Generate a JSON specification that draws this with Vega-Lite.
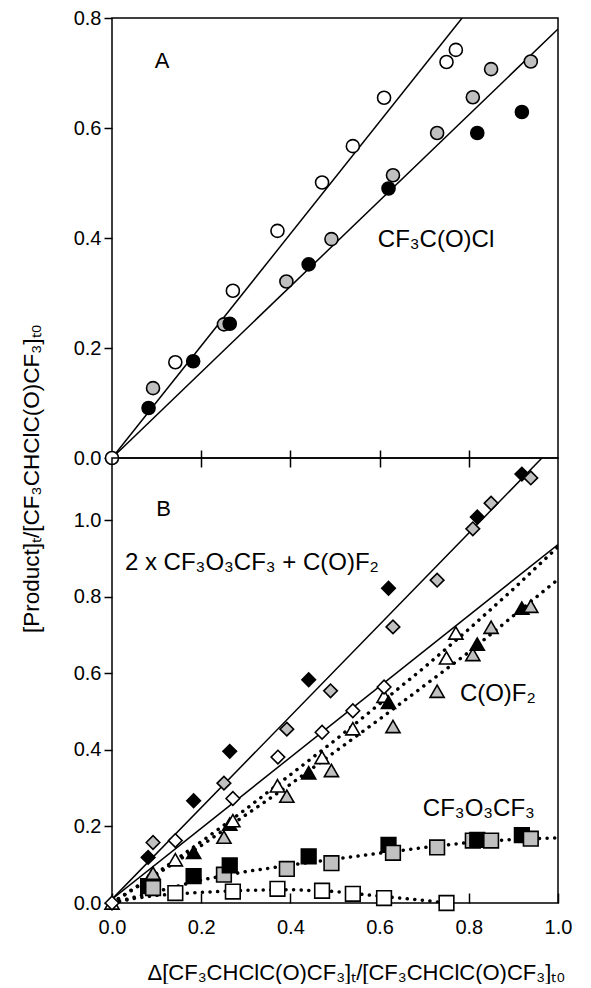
{
  "$schema": "https://vega.github.io/schema/vega-lite/v6.json",
  "padding": {"left": 19, "top": 7, "right": 5, "bottom": 0},
  "bounds": "flush",
  "spacing": 0,
  "config": {
    "font": "Liberation Sans",
    "view": {"stroke": "black", "strokeWidth": 1.5},
    "axis": {"labelFont": "Liberation Sans", "labelFontSize": 20, "labelColor": "black", "tickColor": "black", "tickWidth": 1.5, "domain": false, "grid": false, "labelFlush": false, "titleFont": "Liberation Sans", "titleFontSize": 22, "titleFontWeight": "normal", "titleColor": "black"},
    "text": {"font": "Liberation Sans", "fontSize": 22, "color": "black"}
  },
  "datasets": {
    "fitsA": [
      {"fit": "I", "x": 0, "y": 0}, {"fit": "I", "x": 0.785, "y": 0.8},
      {"fit": "II+III", "x": 0, "y": 0}, {"fit": "II+III", "x": 1, "y": 0.78}
    ],
    "pointsA": [
      {"product": "CF3C(O)Cl", "experiment": "I", "x": 0, "y": 0},
      {"product": "CF3C(O)Cl", "experiment": "III", "x": 0.082, "y": 0.091},
      {"product": "CF3C(O)Cl", "experiment": "II", "x": 0.092, "y": 0.127},
      {"product": "CF3C(O)Cl", "experiment": "I", "x": 0.142, "y": 0.174},
      {"product": "CF3C(O)Cl", "experiment": "III", "x": 0.182, "y": 0.176},
      {"product": "CF3C(O)Cl", "experiment": "II", "x": 0.251, "y": 0.243},
      {"product": "CF3C(O)Cl", "experiment": "III", "x": 0.264, "y": 0.244},
      {"product": "CF3C(O)Cl", "experiment": "I", "x": 0.271, "y": 0.304},
      {"product": "CF3C(O)Cl", "experiment": "I", "x": 0.371, "y": 0.413},
      {"product": "CF3C(O)Cl", "experiment": "II", "x": 0.391, "y": 0.321},
      {"product": "CF3C(O)Cl", "experiment": "III", "x": 0.441, "y": 0.352},
      {"product": "CF3C(O)Cl", "experiment": "I", "x": 0.471, "y": 0.501},
      {"product": "CF3C(O)Cl", "experiment": "II", "x": 0.492, "y": 0.398},
      {"product": "CF3C(O)Cl", "experiment": "I", "x": 0.540, "y": 0.567},
      {"product": "CF3C(O)Cl", "experiment": "I", "x": 0.610, "y": 0.655},
      {"product": "CF3C(O)Cl", "experiment": "III", "x": 0.620, "y": 0.490},
      {"product": "CF3C(O)Cl", "experiment": "II", "x": 0.630, "y": 0.514},
      {"product": "CF3C(O)Cl", "experiment": "II", "x": 0.729, "y": 0.591},
      {"product": "CF3C(O)Cl", "experiment": "I", "x": 0.750, "y": 0.720},
      {"product": "CF3C(O)Cl", "experiment": "I", "x": 0.771, "y": 0.742},
      {"product": "CF3C(O)Cl", "experiment": "II", "x": 0.809, "y": 0.656},
      {"product": "CF3C(O)Cl", "experiment": "III", "x": 0.819, "y": 0.591},
      {"product": "CF3C(O)Cl", "experiment": "II", "x": 0.850, "y": 0.707},
      {"product": "CF3C(O)Cl", "experiment": "III", "x": 0.919, "y": 0.629},
      {"product": "CF3C(O)Cl", "experiment": "II", "x": 0.939, "y": 0.721}
    ],
    "labelsA": [
      {"label": "A", "role": "panel", "x": 0.096, "y": 0.721},
      {"label": "CF₃C(O)Cl", "role": "product", "x": 0.596, "y": 0.397}
    ],
    "fitsB": [
      {"fit": "sum", "kind": "linear", "x": 0, "y": 0.01}, {"fit": "sum", "kind": "linear", "x": 0.964, "y": 1.162},
      {"fit": "COF2 I", "kind": "linear", "x": 0, "y": 0.01}, {"fit": "COF2 I", "kind": "linear", "x": 1, "y": 0.936},
      {"fit": "COF2 tri I", "kind": "curve", "x": 0, "y": 0},
      {"fit": "COF2 tri I", "kind": "curve", "x": 0.1, "y": 0.078},
      {"fit": "COF2 tri I", "kind": "curve", "x": 0.2, "y": 0.16},
      {"fit": "COF2 tri I", "kind": "curve", "x": 0.3, "y": 0.245},
      {"fit": "COF2 tri I", "kind": "curve", "x": 0.4, "y": 0.335},
      {"fit": "COF2 tri I", "kind": "curve", "x": 0.5, "y": 0.425},
      {"fit": "COF2 tri I", "kind": "curve", "x": 0.6, "y": 0.52},
      {"fit": "COF2 tri I", "kind": "curve", "x": 0.7, "y": 0.615},
      {"fit": "COF2 tri I", "kind": "curve", "x": 0.8, "y": 0.715},
      {"fit": "COF2 tri I", "kind": "curve", "x": 0.9, "y": 0.82},
      {"fit": "COF2 tri I", "kind": "curve", "x": 1.0, "y": 0.93},
      {"fit": "COF2 tri II+III", "kind": "curve", "x": 0, "y": 0},
      {"fit": "COF2 tri II+III", "kind": "curve", "x": 0.2, "y": 0.15},
      {"fit": "COF2 tri II+III", "kind": "curve", "x": 0.4, "y": 0.31},
      {"fit": "COF2 tri II+III", "kind": "curve", "x": 0.6, "y": 0.48},
      {"fit": "COF2 tri II+III", "kind": "curve", "x": 0.8, "y": 0.655},
      {"fit": "COF2 tri II+III", "kind": "curve", "x": 1.0, "y": 0.845},
      {"fit": "trioxide II+III", "kind": "curve", "x": 0, "y": 0},
      {"fit": "trioxide II+III", "kind": "curve", "x": 0.1, "y": 0.03},
      {"fit": "trioxide II+III", "kind": "curve", "x": 0.2, "y": 0.06},
      {"fit": "trioxide II+III", "kind": "curve", "x": 0.3, "y": 0.082},
      {"fit": "trioxide II+III", "kind": "curve", "x": 0.4, "y": 0.099},
      {"fit": "trioxide II+III", "kind": "curve", "x": 0.5, "y": 0.115},
      {"fit": "trioxide II+III", "kind": "curve", "x": 0.6, "y": 0.13},
      {"fit": "trioxide II+III", "kind": "curve", "x": 0.7, "y": 0.145},
      {"fit": "trioxide II+III", "kind": "curve", "x": 0.8, "y": 0.158},
      {"fit": "trioxide II+III", "kind": "curve", "x": 0.9, "y": 0.166},
      {"fit": "trioxide II+III", "kind": "curve", "x": 1.0, "y": 0.17},
      {"fit": "trioxide I", "kind": "curve", "x": 0, "y": 0},
      {"fit": "trioxide I", "kind": "curve", "x": 0.05, "y": 0.012},
      {"fit": "trioxide I", "kind": "curve", "x": 0.1, "y": 0.02},
      {"fit": "trioxide I", "kind": "curve", "x": 0.2, "y": 0.028},
      {"fit": "trioxide I", "kind": "curve", "x": 0.3, "y": 0.033},
      {"fit": "trioxide I", "kind": "curve", "x": 0.4, "y": 0.035},
      {"fit": "trioxide I", "kind": "curve", "x": 0.5, "y": 0.03},
      {"fit": "trioxide I", "kind": "curve", "x": 0.6, "y": 0.018},
      {"fit": "trioxide I", "kind": "curve", "x": 0.7, "y": 0.007},
      {"fit": "trioxide I", "kind": "curve", "x": 0.75, "y": 0.0}
    ],
    "pointsB": [
      {"product": "C(O)F2", "experiment": "I", "x": 0, "y": 0},
      {"product": "2 x CF3O3CF3 + C(O)F2", "experiment": "I", "x": 0, "y": 0},
      {"product": "CF3O3CF3", "experiment": "III", "x": 0.081, "y": 0.044},
      {"product": "C(O)F2", "experiment": "III", "x": 0.081, "y": 0.057},
      {"product": "2 x CF3O3CF3 + C(O)F2", "experiment": "III", "x": 0.081, "y": 0.119},
      {"product": "CF3O3CF3", "experiment": "II", "x": 0.092, "y": 0.039},
      {"product": "C(O)F2", "experiment": "II", "x": 0.092, "y": 0.078},
      {"product": "2 x CF3O3CF3 + C(O)F2", "experiment": "II", "x": 0.092, "y": 0.158},
      {"product": "CF3O3CF3", "experiment": "I", "x": 0.142, "y": 0.026},
      {"product": "C(O)F2", "experiment": "I", "x": 0.142, "y": 0.113},
      {"product": "2 x CF3O3CF3 + C(O)F2", "experiment": "I", "x": 0.142, "y": 0.163},
      {"product": "CF3O3CF3", "experiment": "III", "x": 0.183, "y": 0.070},
      {"product": "C(O)F2", "experiment": "III", "x": 0.183, "y": 0.132},
      {"product": "2 x CF3O3CF3 + C(O)F2", "experiment": "III", "x": 0.183, "y": 0.267},
      {"product": "CF3O3CF3", "experiment": "II", "x": 0.251, "y": 0.074},
      {"product": "C(O)F2", "experiment": "II", "x": 0.251, "y": 0.172},
      {"product": "2 x CF3O3CF3 + C(O)F2", "experiment": "II", "x": 0.251, "y": 0.313},
      {"product": "CF3O3CF3", "experiment": "III", "x": 0.264, "y": 0.098},
      {"product": "C(O)F2", "experiment": "III", "x": 0.264, "y": 0.206},
      {"product": "2 x CF3O3CF3 + C(O)F2", "experiment": "III", "x": 0.264, "y": 0.396},
      {"product": "CF3O3CF3", "experiment": "I", "x": 0.271, "y": 0.030},
      {"product": "C(O)F2", "experiment": "I", "x": 0.271, "y": 0.215},
      {"product": "2 x CF3O3CF3 + C(O)F2", "experiment": "I", "x": 0.271, "y": 0.273},
      {"product": "CF3O3CF3", "experiment": "I", "x": 0.371, "y": 0.037},
      {"product": "C(O)F2", "experiment": "I", "x": 0.371, "y": 0.306},
      {"product": "2 x CF3O3CF3 + C(O)F2", "experiment": "I", "x": 0.372, "y": 0.381},
      {"product": "CF3O3CF3", "experiment": "II", "x": 0.392, "y": 0.089},
      {"product": "C(O)F2", "experiment": "II", "x": 0.392, "y": 0.279},
      {"product": "2 x CF3O3CF3 + C(O)F2", "experiment": "II", "x": 0.392, "y": 0.454},
      {"product": "CF3O3CF3", "experiment": "III", "x": 0.441, "y": 0.122},
      {"product": "C(O)F2", "experiment": "III", "x": 0.441, "y": 0.340},
      {"product": "2 x CF3O3CF3 + C(O)F2", "experiment": "III", "x": 0.441, "y": 0.583},
      {"product": "CF3O3CF3", "experiment": "I", "x": 0.471, "y": 0.032},
      {"product": "C(O)F2", "experiment": "I", "x": 0.471, "y": 0.380},
      {"product": "2 x CF3O3CF3 + C(O)F2", "experiment": "I", "x": 0.471, "y": 0.446},
      {"product": "CF3O3CF3", "experiment": "II", "x": 0.492, "y": 0.104},
      {"product": "C(O)F2", "experiment": "II", "x": 0.492, "y": 0.346},
      {"product": "2 x CF3O3CF3 + C(O)F2", "experiment": "II", "x": 0.490, "y": 0.554},
      {"product": "CF3O3CF3", "experiment": "I", "x": 0.540, "y": 0.024},
      {"product": "C(O)F2", "experiment": "I", "x": 0.540, "y": 0.455},
      {"product": "2 x CF3O3CF3 + C(O)F2", "experiment": "I", "x": 0.540, "y": 0.502},
      {"product": "CF3O3CF3", "experiment": "I", "x": 0.610, "y": 0.013},
      {"product": "C(O)F2", "experiment": "I", "x": 0.610, "y": 0.540},
      {"product": "2 x CF3O3CF3 + C(O)F2", "experiment": "I", "x": 0.610, "y": 0.564},
      {"product": "CF3O3CF3", "experiment": "III", "x": 0.620, "y": 0.152},
      {"product": "C(O)F2", "experiment": "III", "x": 0.620, "y": 0.524},
      {"product": "2 x CF3O3CF3 + C(O)F2", "experiment": "III", "x": 0.620, "y": 0.822},
      {"product": "CF3O3CF3", "experiment": "II", "x": 0.630, "y": 0.131},
      {"product": "C(O)F2", "experiment": "II", "x": 0.630, "y": 0.461},
      {"product": "2 x CF3O3CF3 + C(O)F2", "experiment": "II", "x": 0.630, "y": 0.721},
      {"product": "CF3O3CF3", "experiment": "II", "x": 0.729, "y": 0.145},
      {"product": "C(O)F2", "experiment": "II", "x": 0.729, "y": 0.553},
      {"product": "2 x CF3O3CF3 + C(O)F2", "experiment": "II", "x": 0.729, "y": 0.843},
      {"product": "CF3O3CF3", "experiment": "I", "x": 0.750, "y": 0.0},
      {"product": "C(O)F2", "experiment": "I", "x": 0.750, "y": 0.640},
      {"product": "C(O)F2", "experiment": "I", "x": 0.771, "y": 0.705},
      {"product": "CF3O3CF3", "experiment": "II", "x": 0.809, "y": 0.163},
      {"product": "C(O)F2", "experiment": "II", "x": 0.809, "y": 0.649},
      {"product": "2 x CF3O3CF3 + C(O)F2", "experiment": "II", "x": 0.809, "y": 0.977},
      {"product": "CF3O3CF3", "experiment": "III", "x": 0.819, "y": 0.165},
      {"product": "C(O)F2", "experiment": "III", "x": 0.819, "y": 0.676},
      {"product": "2 x CF3O3CF3 + C(O)F2", "experiment": "III", "x": 0.819, "y": 1.008},
      {"product": "CF3O3CF3", "experiment": "II", "x": 0.850, "y": 0.163},
      {"product": "C(O)F2", "experiment": "II", "x": 0.850, "y": 0.720},
      {"product": "2 x CF3O3CF3 + C(O)F2", "experiment": "II", "x": 0.850, "y": 1.044},
      {"product": "CF3O3CF3", "experiment": "III", "x": 0.919, "y": 0.177},
      {"product": "C(O)F2", "experiment": "III", "x": 0.919, "y": 0.770},
      {"product": "2 x CF3O3CF3 + C(O)F2", "experiment": "III", "x": 0.919, "y": 1.120},
      {"product": "CF3O3CF3", "experiment": "II", "x": 0.939, "y": 0.168},
      {"product": "C(O)F2", "experiment": "II", "x": 0.939, "y": 0.775},
      {"product": "2 x CF3O3CF3 + C(O)F2", "experiment": "II", "x": 0.939, "y": 1.110}
    ],
    "labelsB": [
      {"label": "B", "role": "panel", "x": 0.099, "y": 1.028},
      {"label": "2 x CF₃O₃CF₃ + C(O)F₂", "role": "product", "x": 0.029, "y": 0.888},
      {"label": "C(O)F₂", "role": "product", "x": 0.78, "y": 0.545},
      {"label": "CF₃O₃CF₃", "role": "product", "x": 0.697, "y": 0.245}
    ]
  },
  "vconcat": [
    {
      "width": 446,
      "height": 440,
      "encoding": {
        "x": {"field": "x", "type": "quantitative", "scale": {"domain": [0, 1], "nice": false, "zero": false},
              "axis": {"orient": "bottom", "values": [0.2, 0.4, 0.6, 0.8], "labels": false, "tickSize": -17, "offset": 9, "title": null}},
        "y": {"field": "y", "type": "quantitative", "scale": {"domain": [0, 0.8], "nice": false, "zero": false},
              "axis": {"values": [0, 0.2, 0.4, 0.6, 0.8], "format": ".1f", "tickSize": 8, "labelPadding": 3, "title": null}}
      },
      "layer": [
        {
          "data": {"name": "fitsA"},
          "mark": {"type": "line", "color": "black", "strokeWidth": 1.5, "clip": true},
          "encoding": {"detail": {"field": "fit"}}
        },
        {
          "data": {"name": "pointsA"},
          "mark": {"type": "point", "filled": true, "stroke": "black", "strokeWidth": 1.6, "size": 170, "opacity": 1},
          "encoding": {
            "shape": {"field": "product", "type": "nominal", "legend": null,
                      "scale": {"domain": ["CF3C(O)Cl", "2 x CF3O3CF3 + C(O)F2", "C(O)F2", "CF3O3CF3"], "range": ["circle", "diamond", "triangle-up", "square"]}},
            "fill": {"field": "experiment", "type": "nominal", "legend": null,
                     "scale": {"domain": ["I", "II", "III"], "range": ["white", "#c0c0c0", "black"]}}
          }
        },
        {
          "data": {"name": "labelsA"},
          "transform": [{"filter": "datum.role === 'panel'"}],
          "mark": {"type": "text", "align": "left", "baseline": "middle", "fontSize": 22},
          "encoding": {"text": {"field": "label"}}
        },
        {
          "data": {"name": "labelsA"},
          "transform": [{"filter": "datum.role === 'product'"}],
          "mark": {"type": "text", "align": "left", "baseline": "middle", "fontSize": 24},
          "encoding": {"text": {"field": "label"}}
        }
      ]
    },
    {
      "width": 446,
      "height": 445,
      "encoding": {
        "x": {"field": "x", "type": "quantitative", "scale": {"domain": [0, 1], "nice": false, "zero": false},
              "axis": {"orient": "bottom", "values": [0, 0.2, 0.4, 0.6, 0.8, 1], "format": ".1f", "tickSize": -10, "labelPadding": 24,
                       "title": "Δ[CF₃CHClC(O)CF₃]ₜ/[CF₃CHClC(O)CF₃]ₜ₀", "titleX": 244, "titleY": 76, "titleAlign": "center", "titleBaseline": "alphabetic"}},
        "y": {"field": "y", "type": "quantitative", "scale": {"domain": [0, 1.162], "nice": false, "zero": false},
              "axis": {"values": [0, 0.2, 0.4, 0.6, 0.8, 1.0], "format": ".1f", "tickSize": 8, "labelPadding": 3,
                       "title": "[Product]ₜ/[CF₃CHClC(O)CF₃]ₜ₀", "titleFontSize": 22.5, "titleAngle": -90, "titleX": -74, "titleY": 20, "titleAlign": "center", "titleBaseline": "alphabetic"}}
      },
      "layer": [
        {
          "data": {"name": "fitsB"},
          "transform": [{"filter": "datum.kind === 'linear'"}],
          "mark": {"type": "line", "color": "black", "strokeWidth": 1.5, "clip": true},
          "encoding": {"detail": {"field": "fit"}}
        },
        {
          "data": {"name": "fitsB"},
          "transform": [{"filter": "datum.kind === 'curve'"}],
          "mark": {"type": "line", "color": "black", "strokeWidth": 3.5, "strokeDash": [0.1, 7.5], "strokeCap": "round", "clip": true},
          "encoding": {"detail": {"field": "fit"}}
        },
        {
          "data": {"name": "pointsB"},
          "mark": {"type": "point", "filled": true, "stroke": "black", "strokeWidth": 1.6, "opacity": 1},
          "encoding": {
            "shape": {"field": "product", "type": "nominal", "legend": null,
                      "scale": {"domain": ["CF3C(O)Cl", "2 x CF3O3CF3 + C(O)F2", "C(O)F2", "CF3O3CF3"], "range": ["circle", "diamond", "triangle-up", "square"]}},
            "fill": {"field": "experiment", "type": "nominal", "legend": null,
                     "scale": {"domain": ["I", "II", "III"], "range": ["white", "#c0c0c0", "black"]}},
            "size": {"field": "product", "type": "nominal", "legend": null,
                     "scale": {"domain": ["CF3C(O)Cl", "2 x CF3O3CF3 + C(O)F2", "C(O)F2", "CF3O3CF3"], "range": [170, 215, 175, 145]}}
          }
        },
        {
          "data": {"name": "labelsB"},
          "transform": [{"filter": "datum.role === 'panel'"}],
          "mark": {"type": "text", "align": "left", "baseline": "middle", "fontSize": 22},
          "encoding": {"text": {"field": "label"}}
        },
        {
          "data": {"name": "labelsB"},
          "transform": [{"filter": "datum.role === 'product'"}],
          "mark": {"type": "text", "align": "left", "baseline": "middle", "fontSize": 24},
          "encoding": {"text": {"field": "label"}}
        }
      ]
    }
  ]
}
